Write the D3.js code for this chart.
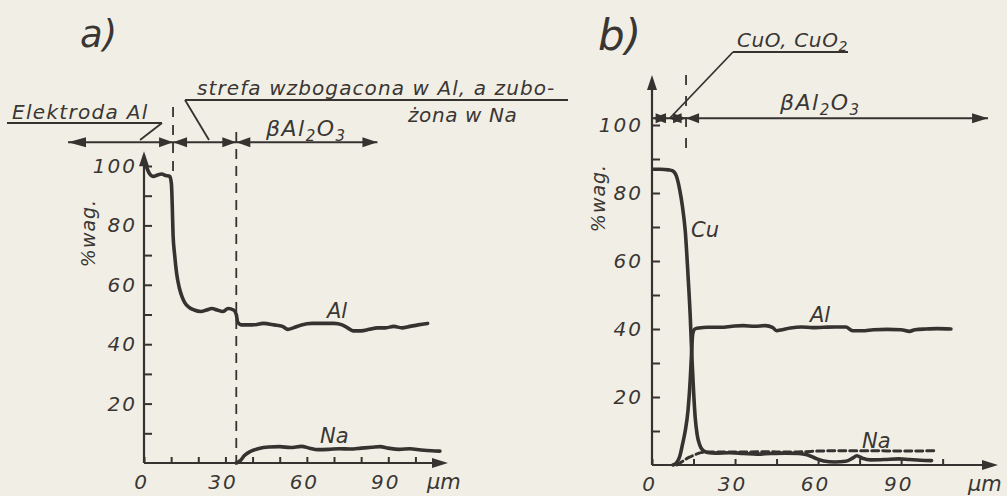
<!DOCTYPE html>
<html>
<head>
<meta charset="utf-8">
<script src="https://cdn.jsdelivr.net/npm/d3@7"></script>
<style>
  body { margin: 0; background: #f1efe5; }
  svg { display: block; }
  text { font-family: "DejaVu Sans", sans-serif; font-style: italic; fill: #3a3633; }
</style>
</head>
<body>
<svg id="viz" width="1007" height="496"></svg>
<script>
// ---- panel a) : Al electrode / beta-Al2O3, [um, % wag.]
const alA = [[0.8,100],[2,97.5],[3.5,96.5],[5,97],[6.5,97.3],[8,96.8],[9.5,96.5],[10.1,94],[10.4,87],
  [10.7,77],[11.3,70],[12,64],[13,59],[14,56],[15,54],[16.5,52.5],[18.5,51.5],[21,51],[23,51.5],
  [25,52],[27,51.5],[29,51],[31,52],[33,51.5],[34,50],[34.5,47.5],[36,46.5],[40,46.5],[44,47],
  [48,46.5],[51,46],[53,45],[55,45.5],[58,46.5],[62,47],[66,47],[70,47],[73,46.5],[75,45.5],
  [77,44.5],[80,44.5],[83,45],[86,45.5],[89,45.5],[92,46],[95,45.5],[98,46],[101,46.5],[104.5,47]];
const naA = [[34,0],[35.5,0.8],[37,2.5],[39,3.8],[42,4.8],[46,5.4],[50,5.5],[54,5.2],[58,5.6],
  [61,5],[64,4.5],[68,4.6],[72,4.8],[76,4.7],[80,5],[84,5.3],[87,5.5],[90,5],[94,4.6],[98,4.8],
  [102,4.4],[106,4.1],[109,4]];
const boundsA = [10.7, 34];

// ---- panel b) : CuO/CuO2 / beta-Al2O3
const cuB = [[0.3,87],[3,87],[6,86.8],[7.5,86.5],[8.8,85],[10,81],[11,76],[12,69],[13,56],[13.8,44],
  [14.4,32],[15,22],[15.6,14],[16.3,9],[17.2,6],[18.3,4.4],[20,3.7],[23,3.5],[28,3.6],[33,3.4],
  [38,3.2],[43,3.4],[48,3.5],[53,3.4],[56,3],[59,2],[62,1.2],[66,0.9],[70,1.1],[72.5,2],[74,2.7],
  [76,2],[79,1.5],[84,1.6],[89,1.8],[93,1.6],[97,1.4],[101,1.3]];
const alB = [[7.6,0],[9,0.8],[10,2.5],[11,6],[12,10],[13,16],[13.8,25],[14.3,33],[14.7,38.5],[15.5,40],
  [17,40.3],[20,40.5],[25,40.5],[29,40.8],[33,41],[37,40.8],[41,41],[43.5,40.5],[45,39.5],[47,39.8],
  [50,40.3],[54,40.6],[58,40.4],[62,40.5],[66,40.6],[70,40.6],[72.5,39.5],[76,39.5],[80,39.8],
  [85,39.9],[90,39.8],[93,39.3],[95,39.8],[99,40],[103,40.1],[108,40]];
const naB = [[9,0],[10.5,0.8],[12,1.6],[13.5,2.3],[15,2.8],[17,3.5],[20,3.8],[30,3.8],[40,3.9],
  [50,3.8],[55,3.9],[60,4.1],[70,4.2],[80,4.2],[90,4.1],[103,4.2]];
const boundsB = [6, 12.3];

// ticks
const xLabels = [0, 30, 60, 90];
const yLabels = [20, 40, 60, 80, 100];
const yMinor = d3.range(10, 101, 10);
const xMinorA = d3.range(0, 101, 10);
const xMinorB = d3.range(0, 106, 15);

const ink = "#353230";
const svg = d3.select("#viz");

const panelA = {
  x: d3.scaleLinear().domain([0, 112]).range([144, 448]),
  y: d3.scaleLinear().domain([0, 100]).range([463, 166]),
  yTop: 105, xTicks: xMinorA, unitX: 427
};
const panelB = {
  x: d3.scaleLinear().domain([0, 125]).range([652, 998]),
  y: d3.scaleLinear().domain([0, 100]).range([465, 125]),
  yTop: 114.7, xTicks: xMinorB, unitX: 968
};

// filled arrowhead, tip at (x,y), dir: 'l','r','u'
function arrowHead(g, x, y, dir, len = 14, w = 5) {
  let p;
  if (dir === 'r') p = [[x, y], [x - len, y - w], [x - len, y + w]];
  else if (dir === 'l') p = [[x, y], [x + len, y - w], [x + len, y + w]];
  else p = [[x, y], [x - w, y + len], [x + w, y + len]];
  g.append("path").attr("d", "M" + p.join("L") + "Z").attr("fill", ink);
}

function drawAxes(p, tx) {
  let g = svg.append("g");
  let x = p.x, y = p.y;

  let yAxis = g.append("g").attr("transform", "translate(" + x(0) + ",0)")
    .call(d3.axisLeft(y).tickValues(yMinor).tickSize(-8).tickPadding(tx)
      .tickFormat(d => yLabels.includes(d) ? d : ""));
  let xAxis = g.append("g").attr("transform", "translate(0," + y(0) + ")")
    .call(d3.axisBottom(x).tickValues(p.xTicks).tickSize(-6).tickPadding(12)
      .tickFormat(d => xLabels.includes(d) ? d : ""));

  [yAxis, xAxis].forEach(a => {
    a.select(".domain").remove();
    a.selectAll("line").attr("stroke", ink).attr("stroke-width", 2);
    a.selectAll("text").attr("font-size", 20).attr("font-family", "DejaVu Sans")
      .attr("font-style", "italic").attr("fill", "#3a3633").style("letter-spacing", "2px");
  });
  xAxis.selectAll("text").attr("dx", -3);

  // axis lines with arrows
  g.append("line").attr("x1", x(0)).attr("x2", x(0)).attr("y1", y(0)).attr("y2", y(p.yTop) + 4)
    .attr("stroke", ink).attr("stroke-width", 2.2);
  arrowHead(g, x(0), y(p.yTop), 'u', 15, 5);
  g.append("line").attr("x1", x(0)).attr("x2", x.range()[1] - 4).attr("y1", y(0)).attr("y2", y(0))
    .attr("stroke", ink).attr("stroke-width", 2.2);
  arrowHead(g, x.range()[1], y(0), 'r', 16, 5);

  g.append("text").attr("x", p.unitX).attr("y", y(0) + 26).attr("font-size", 21).text("µm");
}

function drawCurve(p, data, dashed) {
  let line = d3.line().x(d => p.x(d[0])).y(d => p.y(d[1])).curve(d3.curveMonotoneX);
  svg.append("path").datum(data).attr("d", line).attr("fill", "none")
    .attr("stroke", ink).attr("stroke-width", dashed ? 3 : 3.6)
    .attr("stroke-linejoin", "round").attr("stroke-linecap", "round")
    .attr("stroke-dasharray", dashed ? "7,4" : null);
}

function label(x, y, txt, size, spacing) {
  return svg.append("text").attr("x", x).attr("y", y).attr("font-size", size || 19)
    .style("letter-spacing", (spacing || 0) + "px").text(txt);
}

function alumina(x, y) {
  let t = label(x, y, "", 22, 1.5);
  t.append("tspan").text("βAl");
  t.append("tspan").attr("font-size", 15).attr("dy", 5).text("2");
  t.append("tspan").attr("dy", -5).text("O");
  t.append("tspan").attr("font-size", 15).attr("dy", 5).text("3");
}

function seg(x1, y1, x2, y2, w) {
  svg.append("line").attr("x1", x1).attr("y1", y1).attr("x2", x2).attr("y2", y2)
    .attr("stroke", ink).attr("stroke-width", w || 1.8);
}

// ---------- panel a ----------
drawAxes(panelA, 7);
drawCurve(panelA, alA);
drawCurve(panelA, naA);

// boundaries
svg.append("line").attr("x1", panelA.x(boundsA[0])).attr("x2", panelA.x(boundsA[0]))
  .attr("y1", 107).attr("y2", 176).attr("stroke", ink).attr("stroke-width", 1.8).attr("stroke-dasharray", "10,8");
svg.append("line").attr("x1", panelA.x(boundsA[1])).attr("x2", panelA.x(boundsA[1]))
  .attr("y1", 132).attr("y2", panelA.y(0)).attr("stroke", ink).attr("stroke-width", 1.8).attr("stroke-dasharray", "10,7");

// zone arrows
let arrowY = panelA.y(108);
seg(panelA.x(-28), arrowY, panelA.x(86), arrowY, 2);
arrowHead(svg, panelA.x(-28), arrowY, 'l', 18, 5);
boundsA.forEach(b => {
  arrowHead(svg, panelA.x(b), arrowY, 'r', 14, 5);
  arrowHead(svg, panelA.x(b), arrowY, 'l', 14, 5);
});
arrowHead(svg, panelA.x(86), arrowY, 'r', 15, 5);

label(80, 47, "a)", 37);
label(12, 119, "Elektroda Al", 20, 1.3);
seg(7, 123, 162, 123);
seg(162, 123, 140, 140);
label(197, 95, "strefa wzbogacona w Al, a zubo-", 20, 1.1);
seg(185, 100, 568, 100);
seg(185, 100, 209, 140);
label(408, 122, "żona w Na", 20, 0.6);
alumina(266, 136);

svg.append("text").attr("transform", "translate(95,233) rotate(-90)")
  .attr("text-anchor", "middle").attr("font-size", 19).style("letter-spacing", "1px").text("%wag.");
label(327, 318, "Al", 21);
label(320, 443, "Na", 21);

// ---------- panel b ----------
drawAxes(panelB, 9);
drawCurve(panelB, naB, true);
drawCurve(panelB, alB);
drawCurve(panelB, cuB);

svg.append("line").attr("x1", panelB.x(boundsB[1])).attr("x2", panelB.x(boundsB[1]))
  .attr("y1", 75).attr("y2", 158).attr("stroke", ink).attr("stroke-width", 1.8).attr("stroke-dasharray", "10,11");

let arrowYB = panelB.y(102);
seg(panelB.x(0), arrowYB, panelB.x(121.4), arrowYB, 2);
arrowHead(svg, panelB.x(0), arrowYB, 'l', 14, 5);
boundsB.forEach(b => {
  arrowHead(svg, panelB.x(b), arrowYB, 'r', 13, 5);
  arrowHead(svg, panelB.x(b), arrowYB, 'l', 13, 5);
});
arrowHead(svg, panelB.x(121.4), arrowYB, 'r', 16, 5);

label(598, 50, "b)", 42);
let cuo = label(737, 47, "CuO, CuO", 20, 0.6);
cuo.append("tspan").attr("font-size", 14).attr("dy", 4).text("2");
seg(733, 52, 848, 52);
seg(733, 52, 670, 118);
alumina(780, 110);

svg.append("text").attr("transform", "translate(605,198) rotate(-90)")
  .attr("text-anchor", "middle").attr("font-size", 19).style("letter-spacing", "1px").text("%wag.");
label(691, 237, "Cu", 21);
label(810, 322, "Al", 21);
label(862, 448, "Na", 21);
</script>
</body>
</html>
